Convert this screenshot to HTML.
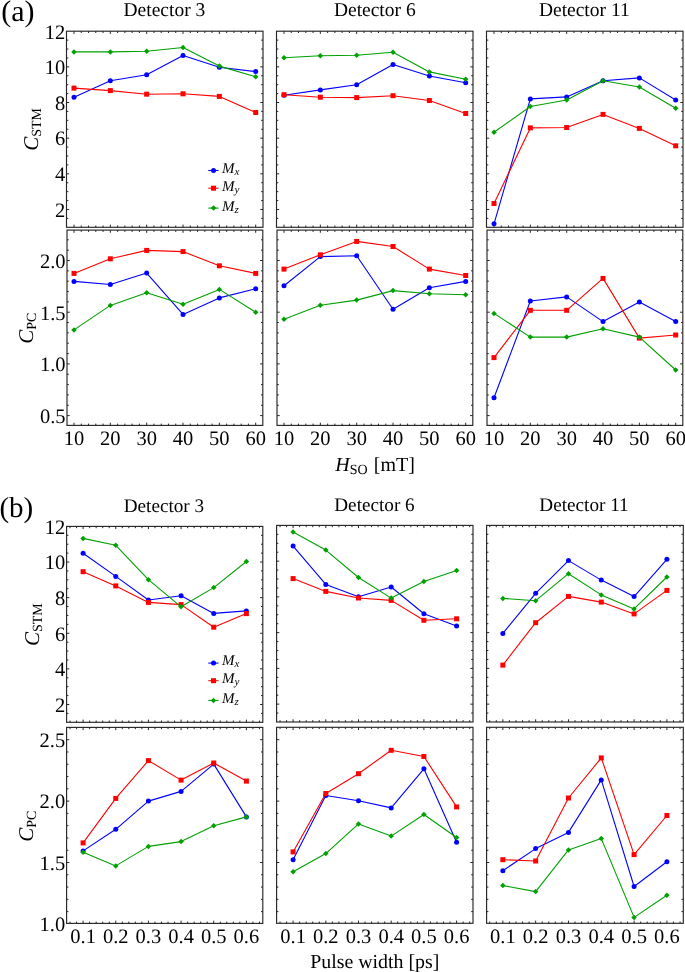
<!DOCTYPE html><html><head><meta charset="utf-8"><style>html,body{margin:0;padding:0;background:#fff;width:685px;height:972px;overflow:hidden}svg{display:block;text-rendering:geometricPrecision;will-change:transform}</style></head><body>
<svg width="685" height="972" viewBox="0 0 685 972" font-family='"Liberation Serif", serif'>
<rect width="685" height="972" fill="#fff"/>
<rect x="66.5" y="31.2" width="196.5" height="196.1" fill="none" stroke="#262626" stroke-width="1.15"/>
<path d="M74 227.3v-2.7M74 31.2v2.7M81.27 227.3v-1.8M81.27 31.2v1.8M88.54 227.3v-1.8M88.54 31.2v1.8M95.8 227.3v-1.8M95.8 31.2v1.8M103.07 227.3v-1.8M103.07 31.2v1.8M110.34 227.3v-2.7M110.34 31.2v2.7M117.61 227.3v-1.8M117.61 31.2v1.8M124.88 227.3v-1.8M124.88 31.2v1.8M132.14 227.3v-1.8M132.14 31.2v1.8M139.41 227.3v-1.8M139.41 31.2v1.8M146.68 227.3v-2.7M146.68 31.2v2.7M153.95 227.3v-1.8M153.95 31.2v1.8M161.22 227.3v-1.8M161.22 31.2v1.8M168.48 227.3v-1.8M168.48 31.2v1.8M175.75 227.3v-1.8M175.75 31.2v1.8M183.02 227.3v-2.7M183.02 31.2v2.7M190.29 227.3v-1.8M190.29 31.2v1.8M197.56 227.3v-1.8M197.56 31.2v1.8M204.82 227.3v-1.8M204.82 31.2v1.8M212.09 227.3v-1.8M212.09 31.2v1.8M219.36 227.3v-2.7M219.36 31.2v2.7M226.63 227.3v-1.8M226.63 31.2v1.8M233.9 227.3v-1.8M233.9 31.2v1.8M241.16 227.3v-1.8M241.16 31.2v1.8M248.43 227.3v-1.8M248.43 31.2v1.8M255.7 227.3v-2.7M255.7 31.2v2.7M66.5 218.39h1.8M263 218.39h-1.8M66.5 209.47h2.7M263 209.47h-2.7M66.5 200.56h1.8M263 200.56h-1.8M66.5 191.65h1.8M263 191.65h-1.8M66.5 182.73h1.8M263 182.73h-1.8M66.5 173.82h2.7M263 173.82h-2.7M66.5 164.9h1.8M263 164.9h-1.8M66.5 155.99h1.8M263 155.99h-1.8M66.5 147.08h1.8M263 147.08h-1.8M66.5 138.16h2.7M263 138.16h-2.7M66.5 129.25h1.8M263 129.25h-1.8M66.5 120.34h1.8M263 120.34h-1.8M66.5 111.42h1.8M263 111.42h-1.8M66.5 102.51h2.7M263 102.51h-2.7M66.5 93.6h1.8M263 93.6h-1.8M66.5 84.68h1.8M263 84.68h-1.8M66.5 75.77h1.8M263 75.77h-1.8M66.5 66.85h2.7M263 66.85h-2.7M66.5 57.94h1.8M263 57.94h-1.8M66.5 49.03h1.8M263 49.03h-1.8M66.5 40.11h1.8M263 40.11h-1.8" stroke="#262626" stroke-width="1" fill="none"/>
<path d="M74 97.2 L110.34 80.8 L146.68 74.8 L183.02 55.5 L219.36 67.2 L255.7 71.6" fill="none" stroke="#0000ff" stroke-width="1.1" stroke-linejoin="round"/>
<circle cx="74" cy="97.2" r="2.5" fill="#0000ff"/>
<circle cx="110.34" cy="80.8" r="2.5" fill="#0000ff"/>
<circle cx="146.68" cy="74.8" r="2.5" fill="#0000ff"/>
<circle cx="183.02" cy="55.5" r="2.5" fill="#0000ff"/>
<circle cx="219.36" cy="67.2" r="2.5" fill="#0000ff"/>
<circle cx="255.7" cy="71.6" r="2.5" fill="#0000ff"/>
<path d="M74 88.1 L110.34 90.6 L146.68 94.2 L183.02 93.8 L219.36 96.4 L255.7 112.5" fill="none" stroke="#ff0000" stroke-width="1.1" stroke-linejoin="round"/>
<rect x="71.5" y="85.6" width="5" height="5" fill="#ff0000"/>
<rect x="107.84" y="88.1" width="5" height="5" fill="#ff0000"/>
<rect x="144.18" y="91.7" width="5" height="5" fill="#ff0000"/>
<rect x="180.52" y="91.3" width="5" height="5" fill="#ff0000"/>
<rect x="216.86" y="93.9" width="5" height="5" fill="#ff0000"/>
<rect x="253.2" y="110" width="5" height="5" fill="#ff0000"/>
<path d="M74 51.9 L110.34 51.9 L146.68 51.2 L183.02 47.5 L219.36 66.1 L255.7 76.7" fill="none" stroke="#00a000" stroke-width="1.1" stroke-linejoin="round"/>
<path d="M74 49.15L76.75 51.9L74 54.65L71.25 51.9Z" fill="#00a000"/>
<path d="M110.34 49.15L113.09 51.9L110.34 54.65L107.59 51.9Z" fill="#00a000"/>
<path d="M146.68 48.45L149.43 51.2L146.68 53.95L143.93 51.2Z" fill="#00a000"/>
<path d="M183.02 44.75L185.77 47.5L183.02 50.25L180.27 47.5Z" fill="#00a000"/>
<path d="M219.36 63.35L222.11 66.1L219.36 68.85L216.61 66.1Z" fill="#00a000"/>
<path d="M255.7 73.95L258.45 76.7L255.7 79.45L252.95 76.7Z" fill="#00a000"/>
<rect x="276.5" y="31.2" width="196.5" height="196.1" fill="none" stroke="#262626" stroke-width="1.15"/>
<path d="M284 227.3v-2.7M284 31.2v2.7M291.27 227.3v-1.8M291.27 31.2v1.8M298.54 227.3v-1.8M298.54 31.2v1.8M305.8 227.3v-1.8M305.8 31.2v1.8M313.07 227.3v-1.8M313.07 31.2v1.8M320.34 227.3v-2.7M320.34 31.2v2.7M327.61 227.3v-1.8M327.61 31.2v1.8M334.88 227.3v-1.8M334.88 31.2v1.8M342.14 227.3v-1.8M342.14 31.2v1.8M349.41 227.3v-1.8M349.41 31.2v1.8M356.68 227.3v-2.7M356.68 31.2v2.7M363.95 227.3v-1.8M363.95 31.2v1.8M371.22 227.3v-1.8M371.22 31.2v1.8M378.48 227.3v-1.8M378.48 31.2v1.8M385.75 227.3v-1.8M385.75 31.2v1.8M393.02 227.3v-2.7M393.02 31.2v2.7M400.29 227.3v-1.8M400.29 31.2v1.8M407.56 227.3v-1.8M407.56 31.2v1.8M414.82 227.3v-1.8M414.82 31.2v1.8M422.09 227.3v-1.8M422.09 31.2v1.8M429.36 227.3v-2.7M429.36 31.2v2.7M436.63 227.3v-1.8M436.63 31.2v1.8M443.9 227.3v-1.8M443.9 31.2v1.8M451.16 227.3v-1.8M451.16 31.2v1.8M458.43 227.3v-1.8M458.43 31.2v1.8M465.7 227.3v-2.7M465.7 31.2v2.7M276.5 218.39h1.8M473 218.39h-1.8M276.5 209.47h2.7M473 209.47h-2.7M276.5 200.56h1.8M473 200.56h-1.8M276.5 191.65h1.8M473 191.65h-1.8M276.5 182.73h1.8M473 182.73h-1.8M276.5 173.82h2.7M473 173.82h-2.7M276.5 164.9h1.8M473 164.9h-1.8M276.5 155.99h1.8M473 155.99h-1.8M276.5 147.08h1.8M473 147.08h-1.8M276.5 138.16h2.7M473 138.16h-2.7M276.5 129.25h1.8M473 129.25h-1.8M276.5 120.34h1.8M473 120.34h-1.8M276.5 111.42h1.8M473 111.42h-1.8M276.5 102.51h2.7M473 102.51h-2.7M276.5 93.6h1.8M473 93.6h-1.8M276.5 84.68h1.8M473 84.68h-1.8M276.5 75.77h1.8M473 75.77h-1.8M276.5 66.85h2.7M473 66.85h-2.7M276.5 57.94h1.8M473 57.94h-1.8M276.5 49.03h1.8M473 49.03h-1.8M276.5 40.11h1.8M473 40.11h-1.8" stroke="#262626" stroke-width="1" fill="none"/>
<path d="M284 95.3 L320.34 89.9 L356.68 84.7 L393.02 64.6 L429.36 76 L465.7 82.8" fill="none" stroke="#0000ff" stroke-width="1.1" stroke-linejoin="round"/>
<circle cx="284" cy="95.3" r="2.5" fill="#0000ff"/>
<circle cx="320.34" cy="89.9" r="2.5" fill="#0000ff"/>
<circle cx="356.68" cy="84.7" r="2.5" fill="#0000ff"/>
<circle cx="393.02" cy="64.6" r="2.5" fill="#0000ff"/>
<circle cx="429.36" cy="76" r="2.5" fill="#0000ff"/>
<circle cx="465.7" cy="82.8" r="2.5" fill="#0000ff"/>
<path d="M284 94.7 L320.34 97.2 L356.68 97.6 L393.02 95.7 L429.36 100.5 L465.7 113.5" fill="none" stroke="#ff0000" stroke-width="1.1" stroke-linejoin="round"/>
<rect x="281.5" y="92.2" width="5" height="5" fill="#ff0000"/>
<rect x="317.84" y="94.7" width="5" height="5" fill="#ff0000"/>
<rect x="354.18" y="95.1" width="5" height="5" fill="#ff0000"/>
<rect x="390.52" y="93.2" width="5" height="5" fill="#ff0000"/>
<rect x="426.86" y="98" width="5" height="5" fill="#ff0000"/>
<rect x="463.2" y="111" width="5" height="5" fill="#ff0000"/>
<path d="M284 57.7 L320.34 55.8 L356.68 55.3 L393.02 52.3 L429.36 71.9 L465.7 79.3" fill="none" stroke="#00a000" stroke-width="1.1" stroke-linejoin="round"/>
<path d="M284 54.95L286.75 57.7L284 60.45L281.25 57.7Z" fill="#00a000"/>
<path d="M320.34 53.05L323.09 55.8L320.34 58.55L317.59 55.8Z" fill="#00a000"/>
<path d="M356.68 52.55L359.43 55.3L356.68 58.05L353.93 55.3Z" fill="#00a000"/>
<path d="M393.02 49.55L395.77 52.3L393.02 55.05L390.27 52.3Z" fill="#00a000"/>
<path d="M429.36 69.15L432.11 71.9L429.36 74.65L426.61 71.9Z" fill="#00a000"/>
<path d="M465.7 76.55L468.45 79.3L465.7 82.05L462.95 79.3Z" fill="#00a000"/>
<rect x="486.5" y="31.2" width="196.5" height="196.1" fill="none" stroke="#262626" stroke-width="1.15"/>
<path d="M494 227.3v-2.7M494 31.2v2.7M501.27 227.3v-1.8M501.27 31.2v1.8M508.54 227.3v-1.8M508.54 31.2v1.8M515.8 227.3v-1.8M515.8 31.2v1.8M523.07 227.3v-1.8M523.07 31.2v1.8M530.34 227.3v-2.7M530.34 31.2v2.7M537.61 227.3v-1.8M537.61 31.2v1.8M544.88 227.3v-1.8M544.88 31.2v1.8M552.14 227.3v-1.8M552.14 31.2v1.8M559.41 227.3v-1.8M559.41 31.2v1.8M566.68 227.3v-2.7M566.68 31.2v2.7M573.95 227.3v-1.8M573.95 31.2v1.8M581.22 227.3v-1.8M581.22 31.2v1.8M588.48 227.3v-1.8M588.48 31.2v1.8M595.75 227.3v-1.8M595.75 31.2v1.8M603.02 227.3v-2.7M603.02 31.2v2.7M610.29 227.3v-1.8M610.29 31.2v1.8M617.56 227.3v-1.8M617.56 31.2v1.8M624.82 227.3v-1.8M624.82 31.2v1.8M632.09 227.3v-1.8M632.09 31.2v1.8M639.36 227.3v-2.7M639.36 31.2v2.7M646.63 227.3v-1.8M646.63 31.2v1.8M653.9 227.3v-1.8M653.9 31.2v1.8M661.16 227.3v-1.8M661.16 31.2v1.8M668.43 227.3v-1.8M668.43 31.2v1.8M675.7 227.3v-2.7M675.7 31.2v2.7M486.5 218.39h1.8M683 218.39h-1.8M486.5 209.47h2.7M683 209.47h-2.7M486.5 200.56h1.8M683 200.56h-1.8M486.5 191.65h1.8M683 191.65h-1.8M486.5 182.73h1.8M683 182.73h-1.8M486.5 173.82h2.7M683 173.82h-2.7M486.5 164.9h1.8M683 164.9h-1.8M486.5 155.99h1.8M683 155.99h-1.8M486.5 147.08h1.8M683 147.08h-1.8M486.5 138.16h2.7M683 138.16h-2.7M486.5 129.25h1.8M683 129.25h-1.8M486.5 120.34h1.8M683 120.34h-1.8M486.5 111.42h1.8M683 111.42h-1.8M486.5 102.51h2.7M683 102.51h-2.7M486.5 93.6h1.8M683 93.6h-1.8M486.5 84.68h1.8M683 84.68h-1.8M486.5 75.77h1.8M683 75.77h-1.8M486.5 66.85h2.7M683 66.85h-2.7M486.5 57.94h1.8M683 57.94h-1.8M486.5 49.03h1.8M683 49.03h-1.8M486.5 40.11h1.8M683 40.11h-1.8" stroke="#262626" stroke-width="1" fill="none"/>
<path d="M494 223.8 L530.34 98.9 L566.68 96.9 L603.02 80.8 L639.36 77.9 L675.7 100" fill="none" stroke="#0000ff" stroke-width="1.1" stroke-linejoin="round"/>
<circle cx="494" cy="223.8" r="2.5" fill="#0000ff"/>
<circle cx="530.34" cy="98.9" r="2.5" fill="#0000ff"/>
<circle cx="566.68" cy="96.9" r="2.5" fill="#0000ff"/>
<circle cx="603.02" cy="80.8" r="2.5" fill="#0000ff"/>
<circle cx="639.36" cy="77.9" r="2.5" fill="#0000ff"/>
<circle cx="675.7" cy="100" r="2.5" fill="#0000ff"/>
<path d="M494 203.5 L530.34 127.9 L566.68 127.5 L603.02 114.4 L639.36 128.4 L675.7 145.8" fill="none" stroke="#ff0000" stroke-width="1.1" stroke-linejoin="round"/>
<rect x="491.5" y="201" width="5" height="5" fill="#ff0000"/>
<rect x="527.84" y="125.4" width="5" height="5" fill="#ff0000"/>
<rect x="564.18" y="125" width="5" height="5" fill="#ff0000"/>
<rect x="600.52" y="111.9" width="5" height="5" fill="#ff0000"/>
<rect x="636.86" y="125.9" width="5" height="5" fill="#ff0000"/>
<rect x="673.2" y="143.3" width="5" height="5" fill="#ff0000"/>
<path d="M494 132.3 L530.34 106.5 L566.68 100 L603.02 80.8 L639.36 87 L675.7 108.2" fill="none" stroke="#00a000" stroke-width="1.1" stroke-linejoin="round"/>
<path d="M494 129.55L496.75 132.3L494 135.05L491.25 132.3Z" fill="#00a000"/>
<path d="M530.34 103.75L533.09 106.5L530.34 109.25L527.59 106.5Z" fill="#00a000"/>
<path d="M566.68 97.25L569.43 100L566.68 102.75L563.93 100Z" fill="#00a000"/>
<path d="M603.02 78.05L605.77 80.8L603.02 83.55L600.27 80.8Z" fill="#00a000"/>
<path d="M639.36 84.25L642.11 87L639.36 89.75L636.61 87Z" fill="#00a000"/>
<path d="M675.7 105.45L678.45 108.2L675.7 110.95L672.95 108.2Z" fill="#00a000"/>
<rect x="67" y="230.1" width="195.8" height="195.3" fill="none" stroke="#262626" stroke-width="1.15"/>
<path d="M74 425.4v-2.7M74 230.1v2.7M81.27 425.4v-1.8M81.27 230.1v1.8M88.54 425.4v-1.8M88.54 230.1v1.8M95.8 425.4v-1.8M95.8 230.1v1.8M103.07 425.4v-1.8M103.07 230.1v1.8M110.34 425.4v-2.7M110.34 230.1v2.7M117.61 425.4v-1.8M117.61 230.1v1.8M124.88 425.4v-1.8M124.88 230.1v1.8M132.14 425.4v-1.8M132.14 230.1v1.8M139.41 425.4v-1.8M139.41 230.1v1.8M146.68 425.4v-2.7M146.68 230.1v2.7M153.95 425.4v-1.8M153.95 230.1v1.8M161.22 425.4v-1.8M161.22 230.1v1.8M168.48 425.4v-1.8M168.48 230.1v1.8M175.75 425.4v-1.8M175.75 230.1v1.8M183.02 425.4v-2.7M183.02 230.1v2.7M190.29 425.4v-1.8M190.29 230.1v1.8M197.56 425.4v-1.8M197.56 230.1v1.8M204.82 425.4v-1.8M204.82 230.1v1.8M212.09 425.4v-1.8M212.09 230.1v1.8M219.36 425.4v-2.7M219.36 230.1v2.7M226.63 425.4v-1.8M226.63 230.1v1.8M233.9 425.4v-1.8M233.9 230.1v1.8M241.16 425.4v-1.8M241.16 230.1v1.8M248.43 425.4v-1.8M248.43 230.1v1.8M255.7 425.4v-2.7M255.7 230.1v2.7M67 415.6h2.7M262.8 415.6h-2.7M67 405.26h1.8M262.8 405.26h-1.8M67 394.92h1.8M262.8 394.92h-1.8M67 384.58h1.8M262.8 384.58h-1.8M67 374.24h1.8M262.8 374.24h-1.8M67 363.9h2.7M262.8 363.9h-2.7M67 353.56h1.8M262.8 353.56h-1.8M67 343.22h1.8M262.8 343.22h-1.8M67 332.88h1.8M262.8 332.88h-1.8M67 322.54h1.8M262.8 322.54h-1.8M67 312.2h2.7M262.8 312.2h-2.7M67 301.86h1.8M262.8 301.86h-1.8M67 291.52h1.8M262.8 291.52h-1.8M67 281.18h1.8M262.8 281.18h-1.8M67 270.84h1.8M262.8 270.84h-1.8M67 260.5h2.7M262.8 260.5h-2.7M67 250.16h1.8M262.8 250.16h-1.8M67 239.82h1.8M262.8 239.82h-1.8" stroke="#262626" stroke-width="1" fill="none"/>
<path d="M74 281.4 L110.34 284.5 L146.68 273.1 L183.02 314.4 L219.36 297.9 L255.7 288.7" fill="none" stroke="#0000ff" stroke-width="1.1" stroke-linejoin="round"/>
<circle cx="74" cy="281.4" r="2.5" fill="#0000ff"/>
<circle cx="110.34" cy="284.5" r="2.5" fill="#0000ff"/>
<circle cx="146.68" cy="273.1" r="2.5" fill="#0000ff"/>
<circle cx="183.02" cy="314.4" r="2.5" fill="#0000ff"/>
<circle cx="219.36" cy="297.9" r="2.5" fill="#0000ff"/>
<circle cx="255.7" cy="288.7" r="2.5" fill="#0000ff"/>
<path d="M74 273.4 L110.34 258.8 L146.68 250.4 L183.02 251.6 L219.36 265.8 L255.7 273.4" fill="none" stroke="#ff0000" stroke-width="1.1" stroke-linejoin="round"/>
<rect x="71.5" y="270.9" width="5" height="5" fill="#ff0000"/>
<rect x="107.84" y="256.3" width="5" height="5" fill="#ff0000"/>
<rect x="144.18" y="247.9" width="5" height="5" fill="#ff0000"/>
<rect x="180.52" y="249.1" width="5" height="5" fill="#ff0000"/>
<rect x="216.86" y="263.3" width="5" height="5" fill="#ff0000"/>
<rect x="253.2" y="270.9" width="5" height="5" fill="#ff0000"/>
<path d="M74 329.9 L110.34 305.4 L146.68 292.8 L183.02 304.2 L219.36 289.4 L255.7 312.2" fill="none" stroke="#00a000" stroke-width="1.1" stroke-linejoin="round"/>
<path d="M74 327.15L76.75 329.9L74 332.65L71.25 329.9Z" fill="#00a000"/>
<path d="M110.34 302.65L113.09 305.4L110.34 308.15L107.59 305.4Z" fill="#00a000"/>
<path d="M146.68 290.05L149.43 292.8L146.68 295.55L143.93 292.8Z" fill="#00a000"/>
<path d="M183.02 301.45L185.77 304.2L183.02 306.95L180.27 304.2Z" fill="#00a000"/>
<path d="M219.36 286.65L222.11 289.4L219.36 292.15L216.61 289.4Z" fill="#00a000"/>
<path d="M255.7 309.45L258.45 312.2L255.7 314.95L252.95 312.2Z" fill="#00a000"/>
<rect x="277" y="230.1" width="195.8" height="195.3" fill="none" stroke="#262626" stroke-width="1.15"/>
<path d="M284 425.4v-2.7M284 230.1v2.7M291.27 425.4v-1.8M291.27 230.1v1.8M298.54 425.4v-1.8M298.54 230.1v1.8M305.8 425.4v-1.8M305.8 230.1v1.8M313.07 425.4v-1.8M313.07 230.1v1.8M320.34 425.4v-2.7M320.34 230.1v2.7M327.61 425.4v-1.8M327.61 230.1v1.8M334.88 425.4v-1.8M334.88 230.1v1.8M342.14 425.4v-1.8M342.14 230.1v1.8M349.41 425.4v-1.8M349.41 230.1v1.8M356.68 425.4v-2.7M356.68 230.1v2.7M363.95 425.4v-1.8M363.95 230.1v1.8M371.22 425.4v-1.8M371.22 230.1v1.8M378.48 425.4v-1.8M378.48 230.1v1.8M385.75 425.4v-1.8M385.75 230.1v1.8M393.02 425.4v-2.7M393.02 230.1v2.7M400.29 425.4v-1.8M400.29 230.1v1.8M407.56 425.4v-1.8M407.56 230.1v1.8M414.82 425.4v-1.8M414.82 230.1v1.8M422.09 425.4v-1.8M422.09 230.1v1.8M429.36 425.4v-2.7M429.36 230.1v2.7M436.63 425.4v-1.8M436.63 230.1v1.8M443.9 425.4v-1.8M443.9 230.1v1.8M451.16 425.4v-1.8M451.16 230.1v1.8M458.43 425.4v-1.8M458.43 230.1v1.8M465.7 425.4v-2.7M465.7 230.1v2.7M277 415.6h2.7M472.8 415.6h-2.7M277 405.26h1.8M472.8 405.26h-1.8M277 394.92h1.8M472.8 394.92h-1.8M277 384.58h1.8M472.8 384.58h-1.8M277 374.24h1.8M472.8 374.24h-1.8M277 363.9h2.7M472.8 363.9h-2.7M277 353.56h1.8M472.8 353.56h-1.8M277 343.22h1.8M472.8 343.22h-1.8M277 332.88h1.8M472.8 332.88h-1.8M277 322.54h1.8M472.8 322.54h-1.8M277 312.2h2.7M472.8 312.2h-2.7M277 301.86h1.8M472.8 301.86h-1.8M277 291.52h1.8M472.8 291.52h-1.8M277 281.18h1.8M472.8 281.18h-1.8M277 270.84h1.8M472.8 270.84h-1.8M277 260.5h2.7M472.8 260.5h-2.7M277 250.16h1.8M472.8 250.16h-1.8M277 239.82h1.8M472.8 239.82h-1.8" stroke="#262626" stroke-width="1" fill="none"/>
<path d="M284 285.8 L320.34 256.6 L356.68 255.7 L393.02 309.3 L429.36 287.7 L465.7 281.4" fill="none" stroke="#0000ff" stroke-width="1.1" stroke-linejoin="round"/>
<circle cx="284" cy="285.8" r="2.5" fill="#0000ff"/>
<circle cx="320.34" cy="256.6" r="2.5" fill="#0000ff"/>
<circle cx="356.68" cy="255.7" r="2.5" fill="#0000ff"/>
<circle cx="393.02" cy="309.3" r="2.5" fill="#0000ff"/>
<circle cx="429.36" cy="287.7" r="2.5" fill="#0000ff"/>
<circle cx="465.7" cy="281.4" r="2.5" fill="#0000ff"/>
<path d="M284 269.1 L320.34 254.8 L356.68 241.4 L393.02 246.5 L429.36 269.1 L465.7 275.5" fill="none" stroke="#ff0000" stroke-width="1.1" stroke-linejoin="round"/>
<rect x="281.5" y="266.6" width="5" height="5" fill="#ff0000"/>
<rect x="317.84" y="252.3" width="5" height="5" fill="#ff0000"/>
<rect x="354.18" y="238.9" width="5" height="5" fill="#ff0000"/>
<rect x="390.52" y="244" width="5" height="5" fill="#ff0000"/>
<rect x="426.86" y="266.6" width="5" height="5" fill="#ff0000"/>
<rect x="463.2" y="273" width="5" height="5" fill="#ff0000"/>
<path d="M284 319.3 L320.34 305.2 L356.68 300.1 L393.02 290.6 L429.36 293.8 L465.7 294.7" fill="none" stroke="#00a000" stroke-width="1.1" stroke-linejoin="round"/>
<path d="M284 316.55L286.75 319.3L284 322.05L281.25 319.3Z" fill="#00a000"/>
<path d="M320.34 302.45L323.09 305.2L320.34 307.95L317.59 305.2Z" fill="#00a000"/>
<path d="M356.68 297.35L359.43 300.1L356.68 302.85L353.93 300.1Z" fill="#00a000"/>
<path d="M393.02 287.85L395.77 290.6L393.02 293.35L390.27 290.6Z" fill="#00a000"/>
<path d="M429.36 291.05L432.11 293.8L429.36 296.55L426.61 293.8Z" fill="#00a000"/>
<path d="M465.7 291.95L468.45 294.7L465.7 297.45L462.95 294.7Z" fill="#00a000"/>
<rect x="487" y="230.1" width="195.8" height="195.3" fill="none" stroke="#262626" stroke-width="1.15"/>
<path d="M494 425.4v-2.7M494 230.1v2.7M501.27 425.4v-1.8M501.27 230.1v1.8M508.54 425.4v-1.8M508.54 230.1v1.8M515.8 425.4v-1.8M515.8 230.1v1.8M523.07 425.4v-1.8M523.07 230.1v1.8M530.34 425.4v-2.7M530.34 230.1v2.7M537.61 425.4v-1.8M537.61 230.1v1.8M544.88 425.4v-1.8M544.88 230.1v1.8M552.14 425.4v-1.8M552.14 230.1v1.8M559.41 425.4v-1.8M559.41 230.1v1.8M566.68 425.4v-2.7M566.68 230.1v2.7M573.95 425.4v-1.8M573.95 230.1v1.8M581.22 425.4v-1.8M581.22 230.1v1.8M588.48 425.4v-1.8M588.48 230.1v1.8M595.75 425.4v-1.8M595.75 230.1v1.8M603.02 425.4v-2.7M603.02 230.1v2.7M610.29 425.4v-1.8M610.29 230.1v1.8M617.56 425.4v-1.8M617.56 230.1v1.8M624.82 425.4v-1.8M624.82 230.1v1.8M632.09 425.4v-1.8M632.09 230.1v1.8M639.36 425.4v-2.7M639.36 230.1v2.7M646.63 425.4v-1.8M646.63 230.1v1.8M653.9 425.4v-1.8M653.9 230.1v1.8M661.16 425.4v-1.8M661.16 230.1v1.8M668.43 425.4v-1.8M668.43 230.1v1.8M675.7 425.4v-2.7M675.7 230.1v2.7M487 415.6h2.7M682.8 415.6h-2.7M487 405.26h1.8M682.8 405.26h-1.8M487 394.92h1.8M682.8 394.92h-1.8M487 384.58h1.8M682.8 384.58h-1.8M487 374.24h1.8M682.8 374.24h-1.8M487 363.9h2.7M682.8 363.9h-2.7M487 353.56h1.8M682.8 353.56h-1.8M487 343.22h1.8M682.8 343.22h-1.8M487 332.88h1.8M682.8 332.88h-1.8M487 322.54h1.8M682.8 322.54h-1.8M487 312.2h2.7M682.8 312.2h-2.7M487 301.86h1.8M682.8 301.86h-1.8M487 291.52h1.8M682.8 291.52h-1.8M487 281.18h1.8M682.8 281.18h-1.8M487 270.84h1.8M682.8 270.84h-1.8M487 260.5h2.7M682.8 260.5h-2.7M487 250.16h1.8M682.8 250.16h-1.8M487 239.82h1.8M682.8 239.82h-1.8" stroke="#262626" stroke-width="1" fill="none"/>
<path d="M494 397.8 L530.34 301 L566.68 296.9 L603.02 321.6 L639.36 302.1 L675.7 321.6" fill="none" stroke="#0000ff" stroke-width="1.1" stroke-linejoin="round"/>
<circle cx="494" cy="397.8" r="2.5" fill="#0000ff"/>
<circle cx="530.34" cy="301" r="2.5" fill="#0000ff"/>
<circle cx="566.68" cy="296.9" r="2.5" fill="#0000ff"/>
<circle cx="603.02" cy="321.6" r="2.5" fill="#0000ff"/>
<circle cx="639.36" cy="302.1" r="2.5" fill="#0000ff"/>
<circle cx="675.7" cy="321.6" r="2.5" fill="#0000ff"/>
<path d="M494 357.6 L530.34 310.3 L566.68 310.3 L603.02 278.4 L639.36 338.1 L675.7 335" fill="none" stroke="#ff0000" stroke-width="1.1" stroke-linejoin="round"/>
<rect x="491.5" y="355.1" width="5" height="5" fill="#ff0000"/>
<rect x="527.84" y="307.8" width="5" height="5" fill="#ff0000"/>
<rect x="564.18" y="307.8" width="5" height="5" fill="#ff0000"/>
<rect x="600.52" y="275.9" width="5" height="5" fill="#ff0000"/>
<rect x="636.86" y="335.6" width="5" height="5" fill="#ff0000"/>
<rect x="673.2" y="332.5" width="5" height="5" fill="#ff0000"/>
<path d="M494 313.4 L530.34 337.1 L566.68 337.1 L603.02 328.8 L639.36 337.1 L675.7 370" fill="none" stroke="#00a000" stroke-width="1.1" stroke-linejoin="round"/>
<path d="M494 310.65L496.75 313.4L494 316.15L491.25 313.4Z" fill="#00a000"/>
<path d="M530.34 334.35L533.09 337.1L530.34 339.85L527.59 337.1Z" fill="#00a000"/>
<path d="M566.68 334.35L569.43 337.1L566.68 339.85L563.93 337.1Z" fill="#00a000"/>
<path d="M603.02 326.05L605.77 328.8L603.02 331.55L600.27 328.8Z" fill="#00a000"/>
<path d="M639.36 334.35L642.11 337.1L639.36 339.85L636.61 337.1Z" fill="#00a000"/>
<path d="M675.7 367.25L678.45 370L675.7 372.75L672.95 370Z" fill="#00a000"/>
<rect x="66.6" y="526.4" width="196.2" height="195.9" fill="none" stroke="#262626" stroke-width="1.15"/>
<path d="M70.04 722.3v-1.8M70.04 526.4v1.8M76.57 722.3v-1.8M76.57 526.4v1.8M83.1 722.3v-2.7M83.1 526.4v2.7M89.63 722.3v-1.8M89.63 526.4v1.8M96.16 722.3v-1.8M96.16 526.4v1.8M102.7 722.3v-1.8M102.7 526.4v1.8M109.23 722.3v-1.8M109.23 526.4v1.8M115.76 722.3v-2.7M115.76 526.4v2.7M122.29 722.3v-1.8M122.29 526.4v1.8M128.82 722.3v-1.8M128.82 526.4v1.8M135.36 722.3v-1.8M135.36 526.4v1.8M141.89 722.3v-1.8M141.89 526.4v1.8M148.42 722.3v-2.7M148.42 526.4v2.7M154.95 722.3v-1.8M154.95 526.4v1.8M161.48 722.3v-1.8M161.48 526.4v1.8M168.02 722.3v-1.8M168.02 526.4v1.8M174.55 722.3v-1.8M174.55 526.4v1.8M181.08 722.3v-2.7M181.08 526.4v2.7M187.61 722.3v-1.8M187.61 526.4v1.8M194.14 722.3v-1.8M194.14 526.4v1.8M200.68 722.3v-1.8M200.68 526.4v1.8M207.21 722.3v-1.8M207.21 526.4v1.8M213.74 722.3v-2.7M213.74 526.4v2.7M220.27 722.3v-1.8M220.27 526.4v1.8M226.8 722.3v-1.8M226.8 526.4v1.8M233.34 722.3v-1.8M233.34 526.4v1.8M239.87 722.3v-1.8M239.87 526.4v1.8M246.4 722.3v-2.7M246.4 526.4v2.7M252.93 722.3v-1.8M252.93 526.4v1.8M259.46 722.3v-1.8M259.46 526.4v1.8M66.6 713.4h1.8M262.8 713.4h-1.8M66.6 704.49h2.7M262.8 704.49h-2.7M66.6 695.59h1.8M262.8 695.59h-1.8M66.6 686.68h1.8M262.8 686.68h-1.8M66.6 677.78h1.8M262.8 677.78h-1.8M66.6 668.87h2.7M262.8 668.87h-2.7M66.6 659.97h1.8M262.8 659.97h-1.8M66.6 651.06h1.8M262.8 651.06h-1.8M66.6 642.16h1.8M262.8 642.16h-1.8M66.6 633.25h2.7M262.8 633.25h-2.7M66.6 624.35h1.8M262.8 624.35h-1.8M66.6 615.45h1.8M262.8 615.45h-1.8M66.6 606.54h1.8M262.8 606.54h-1.8M66.6 597.64h2.7M262.8 597.64h-2.7M66.6 588.73h1.8M262.8 588.73h-1.8M66.6 579.83h1.8M262.8 579.83h-1.8M66.6 570.92h1.8M262.8 570.92h-1.8M66.6 562.02h2.7M262.8 562.02h-2.7M66.6 553.11h1.8M262.8 553.11h-1.8M66.6 544.21h1.8M262.8 544.21h-1.8M66.6 535.3h1.8M262.8 535.3h-1.8" stroke="#262626" stroke-width="1" fill="none"/>
<path d="M83.1 553.3 L115.76 576.4 L148.42 600 L181.08 595.8 L213.74 613.4 L246.4 610.9" fill="none" stroke="#0000ff" stroke-width="1.1" stroke-linejoin="round"/>
<circle cx="83.1" cy="553.3" r="2.5" fill="#0000ff"/>
<circle cx="115.76" cy="576.4" r="2.5" fill="#0000ff"/>
<circle cx="148.42" cy="600" r="2.5" fill="#0000ff"/>
<circle cx="181.08" cy="595.8" r="2.5" fill="#0000ff"/>
<circle cx="213.74" cy="613.4" r="2.5" fill="#0000ff"/>
<circle cx="246.4" cy="610.9" r="2.5" fill="#0000ff"/>
<path d="M83.1 571.7 L115.76 585.9 L148.42 602.4 L181.08 604.6 L213.74 627.2 L246.4 613.6" fill="none" stroke="#ff0000" stroke-width="1.1" stroke-linejoin="round"/>
<rect x="80.6" y="569.2" width="5" height="5" fill="#ff0000"/>
<rect x="113.26" y="583.4" width="5" height="5" fill="#ff0000"/>
<rect x="145.92" y="599.9" width="5" height="5" fill="#ff0000"/>
<rect x="178.58" y="602.1" width="5" height="5" fill="#ff0000"/>
<rect x="211.24" y="624.7" width="5" height="5" fill="#ff0000"/>
<rect x="243.9" y="611.1" width="5" height="5" fill="#ff0000"/>
<path d="M83.1 538.4 L115.76 545.3 L148.42 579.7 L181.08 606.8 L213.74 587.6 L246.4 561.5" fill="none" stroke="#00a000" stroke-width="1.1" stroke-linejoin="round"/>
<path d="M83.1 535.65L85.85 538.4L83.1 541.15L80.35 538.4Z" fill="#00a000"/>
<path d="M115.76 542.55L118.51 545.3L115.76 548.05L113.01 545.3Z" fill="#00a000"/>
<path d="M148.42 576.95L151.17 579.7L148.42 582.45L145.67 579.7Z" fill="#00a000"/>
<path d="M181.08 604.05L183.83 606.8L181.08 609.55L178.33 606.8Z" fill="#00a000"/>
<path d="M213.74 584.85L216.49 587.6L213.74 590.35L210.99 587.6Z" fill="#00a000"/>
<path d="M246.4 558.75L249.15 561.5L246.4 564.25L243.65 561.5Z" fill="#00a000"/>
<rect x="276.6" y="525.4" width="196.4" height="196.6" fill="none" stroke="#262626" stroke-width="1.15"/>
<path d="M280.02 722v-1.8M280.02 525.4v1.8M286.56 722v-1.8M286.56 525.4v1.8M293.1 722v-2.7M293.1 525.4v2.7M299.64 722v-1.8M299.64 525.4v1.8M306.18 722v-1.8M306.18 525.4v1.8M312.72 722v-1.8M312.72 525.4v1.8M319.26 722v-1.8M319.26 525.4v1.8M325.8 722v-2.7M325.8 525.4v2.7M332.34 722v-1.8M332.34 525.4v1.8M338.88 722v-1.8M338.88 525.4v1.8M345.42 722v-1.8M345.42 525.4v1.8M351.96 722v-1.8M351.96 525.4v1.8M358.5 722v-2.7M358.5 525.4v2.7M365.04 722v-1.8M365.04 525.4v1.8M371.58 722v-1.8M371.58 525.4v1.8M378.12 722v-1.8M378.12 525.4v1.8M384.66 722v-1.8M384.66 525.4v1.8M391.2 722v-2.7M391.2 525.4v2.7M397.74 722v-1.8M397.74 525.4v1.8M404.28 722v-1.8M404.28 525.4v1.8M410.82 722v-1.8M410.82 525.4v1.8M417.36 722v-1.8M417.36 525.4v1.8M423.9 722v-2.7M423.9 525.4v2.7M430.44 722v-1.8M430.44 525.4v1.8M436.98 722v-1.8M436.98 525.4v1.8M443.52 722v-1.8M443.52 525.4v1.8M450.06 722v-1.8M450.06 525.4v1.8M456.6 722v-2.7M456.6 525.4v2.7M463.14 722v-1.8M463.14 525.4v1.8M469.68 722v-1.8M469.68 525.4v1.8M276.6 713.06h1.8M473 713.06h-1.8M276.6 704.13h2.7M473 704.13h-2.7M276.6 695.19h1.8M473 695.19h-1.8M276.6 686.25h1.8M473 686.25h-1.8M276.6 677.32h1.8M473 677.32h-1.8M276.6 668.38h2.7M473 668.38h-2.7M276.6 659.45h1.8M473 659.45h-1.8M276.6 650.51h1.8M473 650.51h-1.8M276.6 641.57h1.8M473 641.57h-1.8M276.6 632.64h2.7M473 632.64h-2.7M276.6 623.7h1.8M473 623.7h-1.8M276.6 614.76h1.8M473 614.76h-1.8M276.6 605.83h1.8M473 605.83h-1.8M276.6 596.89h2.7M473 596.89h-2.7M276.6 587.95h1.8M473 587.95h-1.8M276.6 579.02h1.8M473 579.02h-1.8M276.6 570.08h1.8M473 570.08h-1.8M276.6 561.15h2.7M473 561.15h-2.7M276.6 552.21h1.8M473 552.21h-1.8M276.6 543.27h1.8M473 543.27h-1.8M276.6 534.34h1.8M473 534.34h-1.8" stroke="#262626" stroke-width="1" fill="none"/>
<path d="M293.1 546.1 L325.8 584.4 L358.5 596.8 L391.2 587 L423.9 613.7 L456.6 626.1" fill="none" stroke="#0000ff" stroke-width="1.1" stroke-linejoin="round"/>
<circle cx="293.1" cy="546.1" r="2.5" fill="#0000ff"/>
<circle cx="325.8" cy="584.4" r="2.5" fill="#0000ff"/>
<circle cx="358.5" cy="596.8" r="2.5" fill="#0000ff"/>
<circle cx="391.2" cy="587" r="2.5" fill="#0000ff"/>
<circle cx="423.9" cy="613.7" r="2.5" fill="#0000ff"/>
<circle cx="456.6" cy="626.1" r="2.5" fill="#0000ff"/>
<path d="M293.1 578.6 L325.8 591.4 L358.5 598 L391.2 600.4 L423.9 620.3 L456.6 618.8" fill="none" stroke="#ff0000" stroke-width="1.1" stroke-linejoin="round"/>
<rect x="290.6" y="576.1" width="5" height="5" fill="#ff0000"/>
<rect x="323.3" y="588.9" width="5" height="5" fill="#ff0000"/>
<rect x="356" y="595.5" width="5" height="5" fill="#ff0000"/>
<rect x="388.7" y="597.9" width="5" height="5" fill="#ff0000"/>
<rect x="421.4" y="617.8" width="5" height="5" fill="#ff0000"/>
<rect x="454.1" y="616.3" width="5" height="5" fill="#ff0000"/>
<path d="M293.1 532.1 L325.8 550.1 L358.5 577.5 L391.2 598.1 L423.9 581.6 L456.6 570.4" fill="none" stroke="#00a000" stroke-width="1.1" stroke-linejoin="round"/>
<path d="M293.1 529.35L295.85 532.1L293.1 534.85L290.35 532.1Z" fill="#00a000"/>
<path d="M325.8 547.35L328.55 550.1L325.8 552.85L323.05 550.1Z" fill="#00a000"/>
<path d="M358.5 574.75L361.25 577.5L358.5 580.25L355.75 577.5Z" fill="#00a000"/>
<path d="M391.2 595.35L393.95 598.1L391.2 600.85L388.45 598.1Z" fill="#00a000"/>
<path d="M423.9 578.85L426.65 581.6L423.9 584.35L421.15 581.6Z" fill="#00a000"/>
<path d="M456.6 567.65L459.35 570.4L456.6 573.15L453.85 570.4Z" fill="#00a000"/>
<rect x="486.6" y="525.4" width="196.7" height="196.6" fill="none" stroke="#262626" stroke-width="1.15"/>
<path d="M489.73 722v-1.8M489.73 525.4v1.8M496.29 722v-1.8M496.29 525.4v1.8M502.85 722v-2.7M502.85 525.4v2.7M509.41 722v-1.8M509.41 525.4v1.8M515.97 722v-1.8M515.97 525.4v1.8M522.54 722v-1.8M522.54 525.4v1.8M529.1 722v-1.8M529.1 525.4v1.8M535.66 722v-2.7M535.66 525.4v2.7M542.22 722v-1.8M542.22 525.4v1.8M548.78 722v-1.8M548.78 525.4v1.8M555.35 722v-1.8M555.35 525.4v1.8M561.91 722v-1.8M561.91 525.4v1.8M568.47 722v-2.7M568.47 525.4v2.7M575.03 722v-1.8M575.03 525.4v1.8M581.59 722v-1.8M581.59 525.4v1.8M588.16 722v-1.8M588.16 525.4v1.8M594.72 722v-1.8M594.72 525.4v1.8M601.28 722v-2.7M601.28 525.4v2.7M607.84 722v-1.8M607.84 525.4v1.8M614.4 722v-1.8M614.4 525.4v1.8M620.97 722v-1.8M620.97 525.4v1.8M627.53 722v-1.8M627.53 525.4v1.8M634.09 722v-2.7M634.09 525.4v2.7M640.65 722v-1.8M640.65 525.4v1.8M647.21 722v-1.8M647.21 525.4v1.8M653.78 722v-1.8M653.78 525.4v1.8M660.34 722v-1.8M660.34 525.4v1.8M666.9 722v-2.7M666.9 525.4v2.7M673.46 722v-1.8M673.46 525.4v1.8M680.02 722v-1.8M680.02 525.4v1.8M486.6 713.06h1.8M683.3 713.06h-1.8M486.6 704.13h2.7M683.3 704.13h-2.7M486.6 695.19h1.8M683.3 695.19h-1.8M486.6 686.25h1.8M683.3 686.25h-1.8M486.6 677.32h1.8M683.3 677.32h-1.8M486.6 668.38h2.7M683.3 668.38h-2.7M486.6 659.45h1.8M683.3 659.45h-1.8M486.6 650.51h1.8M683.3 650.51h-1.8M486.6 641.57h1.8M683.3 641.57h-1.8M486.6 632.64h2.7M683.3 632.64h-2.7M486.6 623.7h1.8M683.3 623.7h-1.8M486.6 614.76h1.8M683.3 614.76h-1.8M486.6 605.83h1.8M683.3 605.83h-1.8M486.6 596.89h2.7M683.3 596.89h-2.7M486.6 587.95h1.8M683.3 587.95h-1.8M486.6 579.02h1.8M683.3 579.02h-1.8M486.6 570.08h1.8M683.3 570.08h-1.8M486.6 561.15h2.7M683.3 561.15h-2.7M486.6 552.21h1.8M683.3 552.21h-1.8M486.6 543.27h1.8M683.3 543.27h-1.8M486.6 534.34h1.8M683.3 534.34h-1.8" stroke="#262626" stroke-width="1" fill="none"/>
<path d="M502.85 633.4 L535.66 593.3 L568.47 560.6 L601.28 580.1 L634.09 596.6 L666.9 559.3" fill="none" stroke="#0000ff" stroke-width="1.1" stroke-linejoin="round"/>
<circle cx="502.85" cy="633.4" r="2.5" fill="#0000ff"/>
<circle cx="535.66" cy="593.3" r="2.5" fill="#0000ff"/>
<circle cx="568.47" cy="560.6" r="2.5" fill="#0000ff"/>
<circle cx="601.28" cy="580.1" r="2.5" fill="#0000ff"/>
<circle cx="634.09" cy="596.6" r="2.5" fill="#0000ff"/>
<circle cx="666.9" cy="559.3" r="2.5" fill="#0000ff"/>
<path d="M502.85 665.1 L535.66 622.7 L568.47 596.4 L601.28 602.1 L634.09 613.9 L666.9 590.4" fill="none" stroke="#ff0000" stroke-width="1.1" stroke-linejoin="round"/>
<rect x="500.35" y="662.6" width="5" height="5" fill="#ff0000"/>
<rect x="533.16" y="620.2" width="5" height="5" fill="#ff0000"/>
<rect x="565.97" y="593.9" width="5" height="5" fill="#ff0000"/>
<rect x="598.78" y="599.6" width="5" height="5" fill="#ff0000"/>
<rect x="631.59" y="611.4" width="5" height="5" fill="#ff0000"/>
<rect x="664.4" y="587.9" width="5" height="5" fill="#ff0000"/>
<path d="M502.85 598.4 L535.66 600.7 L568.47 573.7 L601.28 594.9 L634.09 608.9 L666.9 577" fill="none" stroke="#00a000" stroke-width="1.1" stroke-linejoin="round"/>
<path d="M502.85 595.65L505.6 598.4L502.85 601.15L500.1 598.4Z" fill="#00a000"/>
<path d="M535.66 597.95L538.41 600.7L535.66 603.45L532.91 600.7Z" fill="#00a000"/>
<path d="M568.47 570.95L571.22 573.7L568.47 576.45L565.72 573.7Z" fill="#00a000"/>
<path d="M601.28 592.15L604.03 594.9L601.28 597.65L598.53 594.9Z" fill="#00a000"/>
<path d="M634.09 606.15L636.84 608.9L634.09 611.65L631.34 608.9Z" fill="#00a000"/>
<path d="M666.9 574.25L669.65 577L666.9 579.75L664.15 577Z" fill="#00a000"/>
<rect x="66.6" y="727.4" width="196.2" height="196" fill="none" stroke="#262626" stroke-width="1.15"/>
<path d="M70.04 923.4v-1.8M70.04 727.4v1.8M76.57 923.4v-1.8M76.57 727.4v1.8M83.1 923.4v-2.7M83.1 727.4v2.7M89.63 923.4v-1.8M89.63 727.4v1.8M96.16 923.4v-1.8M96.16 727.4v1.8M102.7 923.4v-1.8M102.7 727.4v1.8M109.23 923.4v-1.8M109.23 727.4v1.8M115.76 923.4v-2.7M115.76 727.4v2.7M122.29 923.4v-1.8M122.29 727.4v1.8M128.82 923.4v-1.8M128.82 727.4v1.8M135.36 923.4v-1.8M135.36 727.4v1.8M141.89 923.4v-1.8M141.89 727.4v1.8M148.42 923.4v-2.7M148.42 727.4v2.7M154.95 923.4v-1.8M154.95 727.4v1.8M161.48 923.4v-1.8M161.48 727.4v1.8M168.02 923.4v-1.8M168.02 727.4v1.8M174.55 923.4v-1.8M174.55 727.4v1.8M181.08 923.4v-2.7M181.08 727.4v2.7M187.61 923.4v-1.8M187.61 727.4v1.8M194.14 923.4v-1.8M194.14 727.4v1.8M200.68 923.4v-1.8M200.68 727.4v1.8M207.21 923.4v-1.8M207.21 727.4v1.8M213.74 923.4v-2.7M213.74 727.4v2.7M220.27 923.4v-1.8M220.27 727.4v1.8M226.8 923.4v-1.8M226.8 727.4v1.8M233.34 923.4v-1.8M233.34 727.4v1.8M239.87 923.4v-1.8M239.87 727.4v1.8M246.4 923.4v-2.7M246.4 727.4v2.7M252.93 923.4v-1.8M252.93 727.4v1.8M259.46 923.4v-1.8M259.46 727.4v1.8M66.6 911.62h1.8M262.8 911.62h-1.8M66.6 899.34h1.8M262.8 899.34h-1.8M66.6 887.06h1.8M262.8 887.06h-1.8M66.6 874.78h1.8M262.8 874.78h-1.8M66.6 862.5h2.7M262.8 862.5h-2.7M66.6 850.22h1.8M262.8 850.22h-1.8M66.6 837.94h1.8M262.8 837.94h-1.8M66.6 825.66h1.8M262.8 825.66h-1.8M66.6 813.38h1.8M262.8 813.38h-1.8M66.6 801.1h2.7M262.8 801.1h-2.7M66.6 788.82h1.8M262.8 788.82h-1.8M66.6 776.54h1.8M262.8 776.54h-1.8M66.6 764.26h1.8M262.8 764.26h-1.8M66.6 751.98h1.8M262.8 751.98h-1.8M66.6 739.7h2.7M262.8 739.7h-2.7" stroke="#262626" stroke-width="1" fill="none"/>
<path d="M83.1 850.9 L115.76 829.3 L148.42 801.1 L181.08 791.4 L213.74 764.1 L246.4 816.9" fill="none" stroke="#0000ff" stroke-width="1.1" stroke-linejoin="round"/>
<circle cx="83.1" cy="850.9" r="2.5" fill="#0000ff"/>
<circle cx="115.76" cy="829.3" r="2.5" fill="#0000ff"/>
<circle cx="148.42" cy="801.1" r="2.5" fill="#0000ff"/>
<circle cx="181.08" cy="791.4" r="2.5" fill="#0000ff"/>
<circle cx="213.74" cy="764.1" r="2.5" fill="#0000ff"/>
<circle cx="246.4" cy="816.9" r="2.5" fill="#0000ff"/>
<path d="M83.1 842.9 L115.76 798.4 L148.42 760.6 L181.08 780.1 L213.74 763 L246.4 781.1" fill="none" stroke="#ff0000" stroke-width="1.1" stroke-linejoin="round"/>
<rect x="80.6" y="840.4" width="5" height="5" fill="#ff0000"/>
<rect x="113.26" y="795.9" width="5" height="5" fill="#ff0000"/>
<rect x="145.92" y="758.1" width="5" height="5" fill="#ff0000"/>
<rect x="178.58" y="777.6" width="5" height="5" fill="#ff0000"/>
<rect x="211.24" y="760.5" width="5" height="5" fill="#ff0000"/>
<rect x="243.9" y="778.6" width="5" height="5" fill="#ff0000"/>
<path d="M83.1 852.3 L115.76 865.9 L148.42 846.4 L181.08 841.6 L213.74 825.8 L246.4 816.9" fill="none" stroke="#00a000" stroke-width="1.1" stroke-linejoin="round"/>
<path d="M83.1 849.55L85.85 852.3L83.1 855.05L80.35 852.3Z" fill="#00a000"/>
<path d="M115.76 863.15L118.51 865.9L115.76 868.65L113.01 865.9Z" fill="#00a000"/>
<path d="M148.42 843.65L151.17 846.4L148.42 849.15L145.67 846.4Z" fill="#00a000"/>
<path d="M181.08 838.85L183.83 841.6L181.08 844.35L178.33 841.6Z" fill="#00a000"/>
<path d="M213.74 823.05L216.49 825.8L213.74 828.55L210.99 825.8Z" fill="#00a000"/>
<path d="M246.4 814.15L249.15 816.9L246.4 819.65L243.65 816.9Z" fill="#00a000"/>
<rect x="276.6" y="727.3" width="196.4" height="196" fill="none" stroke="#262626" stroke-width="1.15"/>
<path d="M280.02 923.3v-1.8M280.02 727.3v1.8M286.56 923.3v-1.8M286.56 727.3v1.8M293.1 923.3v-2.7M293.1 727.3v2.7M299.64 923.3v-1.8M299.64 727.3v1.8M306.18 923.3v-1.8M306.18 727.3v1.8M312.72 923.3v-1.8M312.72 727.3v1.8M319.26 923.3v-1.8M319.26 727.3v1.8M325.8 923.3v-2.7M325.8 727.3v2.7M332.34 923.3v-1.8M332.34 727.3v1.8M338.88 923.3v-1.8M338.88 727.3v1.8M345.42 923.3v-1.8M345.42 727.3v1.8M351.96 923.3v-1.8M351.96 727.3v1.8M358.5 923.3v-2.7M358.5 727.3v2.7M365.04 923.3v-1.8M365.04 727.3v1.8M371.58 923.3v-1.8M371.58 727.3v1.8M378.12 923.3v-1.8M378.12 727.3v1.8M384.66 923.3v-1.8M384.66 727.3v1.8M391.2 923.3v-2.7M391.2 727.3v2.7M397.74 923.3v-1.8M397.74 727.3v1.8M404.28 923.3v-1.8M404.28 727.3v1.8M410.82 923.3v-1.8M410.82 727.3v1.8M417.36 923.3v-1.8M417.36 727.3v1.8M423.9 923.3v-2.7M423.9 727.3v2.7M430.44 923.3v-1.8M430.44 727.3v1.8M436.98 923.3v-1.8M436.98 727.3v1.8M443.52 923.3v-1.8M443.52 727.3v1.8M450.06 923.3v-1.8M450.06 727.3v1.8M456.6 923.3v-2.7M456.6 727.3v2.7M463.14 923.3v-1.8M463.14 727.3v1.8M469.68 923.3v-1.8M469.68 727.3v1.8M276.6 911.62h1.8M473 911.62h-1.8M276.6 899.34h1.8M473 899.34h-1.8M276.6 887.06h1.8M473 887.06h-1.8M276.6 874.78h1.8M473 874.78h-1.8M276.6 862.5h2.7M473 862.5h-2.7M276.6 850.22h1.8M473 850.22h-1.8M276.6 837.94h1.8M473 837.94h-1.8M276.6 825.66h1.8M473 825.66h-1.8M276.6 813.38h1.8M473 813.38h-1.8M276.6 801.1h2.7M473 801.1h-2.7M276.6 788.82h1.8M473 788.82h-1.8M276.6 776.54h1.8M473 776.54h-1.8M276.6 764.26h1.8M473 764.26h-1.8M276.6 751.98h1.8M473 751.98h-1.8M276.6 739.7h2.7M473 739.7h-2.7" stroke="#262626" stroke-width="1" fill="none"/>
<path d="M293.1 859.7 L325.8 795.5 L358.5 800.7 L391.2 807.9 L423.9 768.8 L456.6 842.3" fill="none" stroke="#0000ff" stroke-width="1.1" stroke-linejoin="round"/>
<circle cx="293.1" cy="859.7" r="2.5" fill="#0000ff"/>
<circle cx="325.8" cy="795.5" r="2.5" fill="#0000ff"/>
<circle cx="358.5" cy="800.7" r="2.5" fill="#0000ff"/>
<circle cx="391.2" cy="807.9" r="2.5" fill="#0000ff"/>
<circle cx="423.9" cy="768.8" r="2.5" fill="#0000ff"/>
<circle cx="456.6" cy="842.3" r="2.5" fill="#0000ff"/>
<path d="M293.1 851.9 L325.8 793.5 L358.5 773.7 L391.2 750.3 L423.9 756.5 L456.6 806.9" fill="none" stroke="#ff0000" stroke-width="1.1" stroke-linejoin="round"/>
<rect x="290.6" y="849.4" width="5" height="5" fill="#ff0000"/>
<rect x="323.3" y="791" width="5" height="5" fill="#ff0000"/>
<rect x="356" y="771.2" width="5" height="5" fill="#ff0000"/>
<rect x="388.7" y="747.8" width="5" height="5" fill="#ff0000"/>
<rect x="421.4" y="754" width="5" height="5" fill="#ff0000"/>
<rect x="454.1" y="804.4" width="5" height="5" fill="#ff0000"/>
<path d="M293.1 871.7 L325.8 853.6 L358.5 823.9 L391.2 836.1 L423.9 814.5 L456.6 837.5" fill="none" stroke="#00a000" stroke-width="1.1" stroke-linejoin="round"/>
<path d="M293.1 868.95L295.85 871.7L293.1 874.45L290.35 871.7Z" fill="#00a000"/>
<path d="M325.8 850.85L328.55 853.6L325.8 856.35L323.05 853.6Z" fill="#00a000"/>
<path d="M358.5 821.15L361.25 823.9L358.5 826.65L355.75 823.9Z" fill="#00a000"/>
<path d="M391.2 833.35L393.95 836.1L391.2 838.85L388.45 836.1Z" fill="#00a000"/>
<path d="M423.9 811.75L426.65 814.5L423.9 817.25L421.15 814.5Z" fill="#00a000"/>
<path d="M456.6 834.75L459.35 837.5L456.6 840.25L453.85 837.5Z" fill="#00a000"/>
<rect x="486.6" y="727.3" width="196.7" height="196" fill="none" stroke="#262626" stroke-width="1.15"/>
<path d="M489.73 923.3v-1.8M489.73 727.3v1.8M496.29 923.3v-1.8M496.29 727.3v1.8M502.85 923.3v-2.7M502.85 727.3v2.7M509.41 923.3v-1.8M509.41 727.3v1.8M515.97 923.3v-1.8M515.97 727.3v1.8M522.54 923.3v-1.8M522.54 727.3v1.8M529.1 923.3v-1.8M529.1 727.3v1.8M535.66 923.3v-2.7M535.66 727.3v2.7M542.22 923.3v-1.8M542.22 727.3v1.8M548.78 923.3v-1.8M548.78 727.3v1.8M555.35 923.3v-1.8M555.35 727.3v1.8M561.91 923.3v-1.8M561.91 727.3v1.8M568.47 923.3v-2.7M568.47 727.3v2.7M575.03 923.3v-1.8M575.03 727.3v1.8M581.59 923.3v-1.8M581.59 727.3v1.8M588.16 923.3v-1.8M588.16 727.3v1.8M594.72 923.3v-1.8M594.72 727.3v1.8M601.28 923.3v-2.7M601.28 727.3v2.7M607.84 923.3v-1.8M607.84 727.3v1.8M614.4 923.3v-1.8M614.4 727.3v1.8M620.97 923.3v-1.8M620.97 727.3v1.8M627.53 923.3v-1.8M627.53 727.3v1.8M634.09 923.3v-2.7M634.09 727.3v2.7M640.65 923.3v-1.8M640.65 727.3v1.8M647.21 923.3v-1.8M647.21 727.3v1.8M653.78 923.3v-1.8M653.78 727.3v1.8M660.34 923.3v-1.8M660.34 727.3v1.8M666.9 923.3v-2.7M666.9 727.3v2.7M673.46 923.3v-1.8M673.46 727.3v1.8M680.02 923.3v-1.8M680.02 727.3v1.8M486.6 911.62h1.8M683.3 911.62h-1.8M486.6 899.34h1.8M683.3 899.34h-1.8M486.6 887.06h1.8M683.3 887.06h-1.8M486.6 874.78h1.8M683.3 874.78h-1.8M486.6 862.5h2.7M683.3 862.5h-2.7M486.6 850.22h1.8M683.3 850.22h-1.8M486.6 837.94h1.8M683.3 837.94h-1.8M486.6 825.66h1.8M683.3 825.66h-1.8M486.6 813.38h1.8M683.3 813.38h-1.8M486.6 801.1h2.7M683.3 801.1h-2.7M486.6 788.82h1.8M683.3 788.82h-1.8M486.6 776.54h1.8M683.3 776.54h-1.8M486.6 764.26h1.8M683.3 764.26h-1.8M486.6 751.98h1.8M683.3 751.98h-1.8M486.6 739.7h2.7M683.3 739.7h-2.7" stroke="#262626" stroke-width="1" fill="none"/>
<path d="M502.85 870.7 L535.66 848.6 L568.47 832.4 L601.28 779.9 L634.09 886.5 L666.9 861.8" fill="none" stroke="#0000ff" stroke-width="1.1" stroke-linejoin="round"/>
<circle cx="502.85" cy="870.7" r="2.5" fill="#0000ff"/>
<circle cx="535.66" cy="848.6" r="2.5" fill="#0000ff"/>
<circle cx="568.47" cy="832.4" r="2.5" fill="#0000ff"/>
<circle cx="601.28" cy="779.9" r="2.5" fill="#0000ff"/>
<circle cx="634.09" cy="886.5" r="2.5" fill="#0000ff"/>
<circle cx="666.9" cy="861.8" r="2.5" fill="#0000ff"/>
<path d="M502.85 859.7 L535.66 861 L568.47 798 L601.28 757.9 L634.09 854.6 L666.9 815.5" fill="none" stroke="#ff0000" stroke-width="1.1" stroke-linejoin="round"/>
<rect x="500.35" y="857.2" width="5" height="5" fill="#ff0000"/>
<rect x="533.16" y="858.5" width="5" height="5" fill="#ff0000"/>
<rect x="565.97" y="795.5" width="5" height="5" fill="#ff0000"/>
<rect x="598.78" y="755.4" width="5" height="5" fill="#ff0000"/>
<rect x="631.59" y="852.1" width="5" height="5" fill="#ff0000"/>
<rect x="664.4" y="813" width="5" height="5" fill="#ff0000"/>
<path d="M502.85 885.5 L535.66 891.6 L568.47 849.9 L601.28 838.6 L634.09 917.4 L666.9 895.3" fill="none" stroke="#00a000" stroke-width="1.1" stroke-linejoin="round"/>
<path d="M502.85 882.75L505.6 885.5L502.85 888.25L500.1 885.5Z" fill="#00a000"/>
<path d="M535.66 888.85L538.41 891.6L535.66 894.35L532.91 891.6Z" fill="#00a000"/>
<path d="M568.47 847.15L571.22 849.9L568.47 852.65L565.72 849.9Z" fill="#00a000"/>
<path d="M601.28 835.85L604.03 838.6L601.28 841.35L598.53 838.6Z" fill="#00a000"/>
<path d="M634.09 914.65L636.84 917.4L634.09 920.15L631.34 917.4Z" fill="#00a000"/>
<path d="M666.9 892.55L669.65 895.3L666.9 898.05L664.15 895.3Z" fill="#00a000"/>
<text x="65.2" y="216.77" font-size="20.5" text-anchor="end">2</text>
<text x="65.2" y="181.12" font-size="20.5" text-anchor="end">4</text>
<text x="65.2" y="145.46" font-size="20.5" text-anchor="end">6</text>
<text x="65.2" y="109.81" font-size="20.5" text-anchor="end">8</text>
<text x="65.2" y="74.15" font-size="20.5" text-anchor="end">10</text>
<text x="65.2" y="38.5" font-size="20.5" text-anchor="end">12</text>
<text x="65.6" y="422.9" font-size="20.5" text-anchor="end">0.5</text>
<text x="65.6" y="371.2" font-size="20.5" text-anchor="end">1.0</text>
<text x="65.6" y="319.5" font-size="20.5" text-anchor="end">1.5</text>
<text x="65.6" y="267.8" font-size="20.5" text-anchor="end">2.0</text>
<text x="65.2" y="711.79" font-size="20.5" text-anchor="end">2</text>
<text x="65.2" y="676.17" font-size="20.5" text-anchor="end">4</text>
<text x="65.2" y="640.55" font-size="20.5" text-anchor="end">6</text>
<text x="65.2" y="604.94" font-size="20.5" text-anchor="end">8</text>
<text x="65.2" y="569.32" font-size="20.5" text-anchor="end">10</text>
<text x="65.2" y="533.7" font-size="20.5" text-anchor="end">12</text>
<text x="65.2" y="931.2" font-size="20.5" text-anchor="end">1.0</text>
<text x="65.2" y="869.8" font-size="20.5" text-anchor="end">1.5</text>
<text x="65.2" y="808.4" font-size="20.5" text-anchor="end">2.0</text>
<text x="65.2" y="747" font-size="20.5" text-anchor="end">2.5</text>
<text x="74" y="445.3" font-size="20.5" text-anchor="middle">10</text>
<text x="110.34" y="445.3" font-size="20.5" text-anchor="middle">20</text>
<text x="146.68" y="445.3" font-size="20.5" text-anchor="middle">30</text>
<text x="183.02" y="445.3" font-size="20.5" text-anchor="middle">40</text>
<text x="219.36" y="445.3" font-size="20.5" text-anchor="middle">50</text>
<text x="255.7" y="445.3" font-size="20.5" text-anchor="middle">60</text>
<text x="83.1" y="942.9" font-size="20.5" text-anchor="middle">0.1</text>
<text x="115.76" y="942.9" font-size="20.5" text-anchor="middle">0.2</text>
<text x="148.42" y="942.9" font-size="20.5" text-anchor="middle">0.3</text>
<text x="181.08" y="942.9" font-size="20.5" text-anchor="middle">0.4</text>
<text x="213.74" y="942.9" font-size="20.5" text-anchor="middle">0.5</text>
<text x="246.4" y="942.9" font-size="20.5" text-anchor="middle">0.6</text>
<text x="284" y="445.3" font-size="20.5" text-anchor="middle">10</text>
<text x="320.34" y="445.3" font-size="20.5" text-anchor="middle">20</text>
<text x="356.68" y="445.3" font-size="20.5" text-anchor="middle">30</text>
<text x="393.02" y="445.3" font-size="20.5" text-anchor="middle">40</text>
<text x="429.36" y="445.3" font-size="20.5" text-anchor="middle">50</text>
<text x="465.7" y="445.3" font-size="20.5" text-anchor="middle">60</text>
<text x="293.1" y="942.9" font-size="20.5" text-anchor="middle">0.1</text>
<text x="325.8" y="942.9" font-size="20.5" text-anchor="middle">0.2</text>
<text x="358.5" y="942.9" font-size="20.5" text-anchor="middle">0.3</text>
<text x="391.2" y="942.9" font-size="20.5" text-anchor="middle">0.4</text>
<text x="423.9" y="942.9" font-size="20.5" text-anchor="middle">0.5</text>
<text x="456.6" y="942.9" font-size="20.5" text-anchor="middle">0.6</text>
<text x="494" y="445.3" font-size="20.5" text-anchor="middle">10</text>
<text x="530.34" y="445.3" font-size="20.5" text-anchor="middle">20</text>
<text x="566.68" y="445.3" font-size="20.5" text-anchor="middle">30</text>
<text x="603.02" y="445.3" font-size="20.5" text-anchor="middle">40</text>
<text x="639.36" y="445.3" font-size="20.5" text-anchor="middle">50</text>
<text x="675.7" y="445.3" font-size="20.5" text-anchor="middle">60</text>
<text x="502.85" y="942.9" font-size="20.5" text-anchor="middle">0.1</text>
<text x="535.66" y="942.9" font-size="20.5" text-anchor="middle">0.2</text>
<text x="568.47" y="942.9" font-size="20.5" text-anchor="middle">0.3</text>
<text x="601.28" y="942.9" font-size="20.5" text-anchor="middle">0.4</text>
<text x="634.09" y="942.9" font-size="20.5" text-anchor="middle">0.5</text>
<text x="666.9" y="942.9" font-size="20.5" text-anchor="middle">0.6</text>
<text x="164.4" y="15.9" font-size="19.5" text-anchor="middle">Detector 3</text>
<text x="374.8" y="15.9" font-size="19.5" text-anchor="middle">Detector 6</text>
<text x="584.3" y="15.9" font-size="19.5" text-anchor="middle">Detector 11</text>
<text x="163.9" y="511.8" font-size="19.2" text-anchor="middle">Detector 3</text>
<text x="374.5" y="510.8" font-size="19.2" text-anchor="middle">Detector 6</text>
<text x="584" y="510.7" font-size="19.2" text-anchor="middle">Detector 11</text>
<text x="1.3" y="20.9" font-size="30">(a)</text>
<text x="-0.6" y="517.3" font-size="29">(b)</text>
<text transform="translate(38.4 129.4) rotate(-90)" text-anchor="middle" font-size="21"><tspan font-style="italic">C</tspan><tspan font-size="14" dy="3">STM</tspan></text>
<text transform="translate(33 328.3) rotate(-90)" text-anchor="middle" font-size="21"><tspan font-style="italic">C</tspan><tspan font-size="14" dy="3">PC</tspan></text>
<text transform="translate(39 624.7) rotate(-90)" text-anchor="middle" font-size="21"><tspan font-style="italic">C</tspan><tspan font-size="14" dy="3">STM</tspan></text>
<text transform="translate(32.5 826.3) rotate(-90)" text-anchor="middle" font-size="21"><tspan font-style="italic">C</tspan><tspan font-size="14" dy="3">PC</tspan></text>
<text x="375.1" y="470.6" font-size="20" text-anchor="middle"><tspan font-style="italic">H</tspan><tspan font-size="14" dy="3">SO</tspan><tspan dy="-3" dx="1.2"> [mT]</tspan></text>
<text x="374.8" y="967.8" font-size="19.9" text-anchor="middle">Pulse width [ps]</text>
<path d="M208.3 170.5H218.5" stroke="#0000ff" stroke-width="1.1"/>
<path d="M213.5 170.5" fill="none" stroke="#0000ff" stroke-width="1.1" stroke-linejoin="round"/>
<circle cx="213.5" cy="170.5" r="2.5" fill="#0000ff"/>
<path d="M208.3 188.2H218.5" stroke="#ff0000" stroke-width="1.1"/>
<path d="M213.5 188.2" fill="none" stroke="#ff0000" stroke-width="1.1" stroke-linejoin="round"/>
<rect x="211" y="185.7" width="5" height="5" fill="#ff0000"/>
<path d="M208.3 208.1H218.5" stroke="#00a000" stroke-width="1.1"/>
<path d="M213.5 208.1" fill="none" stroke="#00a000" stroke-width="1.1" stroke-linejoin="round"/>
<path d="M213.5 205.35L216.25 208.1L213.5 210.85L210.75 208.1Z" fill="#00a000"/>
<path d="M208.3 663.1H218.5" stroke="#0000ff" stroke-width="1.1"/>
<path d="M213.5 663.1" fill="none" stroke="#0000ff" stroke-width="1.1" stroke-linejoin="round"/>
<circle cx="213.5" cy="663.1" r="2.5" fill="#0000ff"/>
<path d="M208.3 680.7H218.5" stroke="#ff0000" stroke-width="1.1"/>
<path d="M213.5 680.7" fill="none" stroke="#ff0000" stroke-width="1.1" stroke-linejoin="round"/>
<rect x="211" y="678.2" width="5" height="5" fill="#ff0000"/>
<path d="M208.3 700.4H218.5" stroke="#00a000" stroke-width="1.1"/>
<path d="M213.5 700.4" fill="none" stroke="#00a000" stroke-width="1.1" stroke-linejoin="round"/>
<path d="M213.5 697.65L216.25 700.4L213.5 703.15L210.75 700.4Z" fill="#00a000"/>
<text x="222.1" y="172.9" font-size="15" font-style="italic">M<tspan font-size="11" dy="2">x</tspan></text>
<text x="222.1" y="190.6" font-size="15" font-style="italic">M<tspan font-size="11" dy="2">y</tspan></text>
<text x="222.1" y="210.5" font-size="15" font-style="italic">M<tspan font-size="11" dy="2">z</tspan></text>
<text x="222.1" y="665.3" font-size="15" font-style="italic">M<tspan font-size="11" dy="2">x</tspan></text>
<text x="222.1" y="683" font-size="15" font-style="italic">M<tspan font-size="11" dy="2">y</tspan></text>
<text x="222.1" y="702.7" font-size="15" font-style="italic">M<tspan font-size="11" dy="2">z</tspan></text>
</svg></body></html>
